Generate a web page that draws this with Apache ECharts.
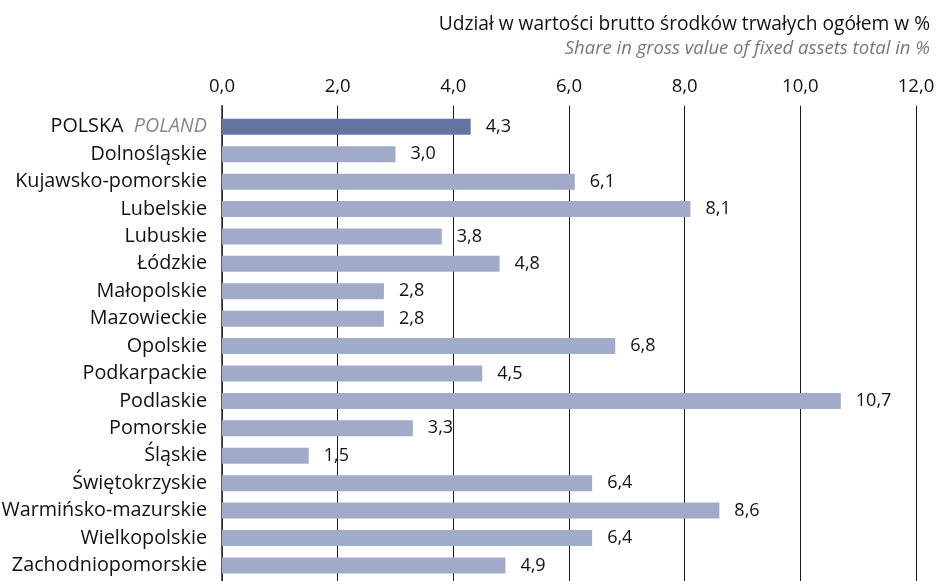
<!DOCTYPE html>
<html>
<head>
<meta charset="utf-8">
<script src="https://cdn.jsdelivr.net/npm/echarts@6/dist/echarts.min.js"></script>
<style>html,body{margin:0;padding:0;background:#fff}#c{width:936px;height:581px}</style>
</head>
<body>
<div id="c"></div>
<script>
const categories = ["POLSKA", "Dolnośląskie", "Kujawsko-pomorskie", "Lubelskie", "Lubuskie", "Łódzkie", "Małopolskie", "Mazowieckie", "Opolskie", "Podkarpackie", "Podlaskie", "Pomorskie", "Śląskie", "Świętokrzyskie", "Warmińsko-mazurskie", "Wielkopolskie", "Zachodniopomorskie"];
const values = [4.3, 3.0, 6.1, 8.1, 3.8, 4.8, 2.8, 2.8, 6.8, 4.5, 10.7, 3.3, 1.5, 6.4, 8.6, 6.4, 4.9];
const tickLabels = ["0,0", "2,0", "4,0", "6,0", "8,0", "10,0", "12,0"];
const titlePL = "Udział w wartości brutto środków trwałych ogółem w %";
const titleEN = "Share in gross value of fixed assets total in %";
const polandEN = "POLAND";

const FONT = "Open Sans";
const chart = echarts.init(document.getElementById('c'), null, {renderer: 'canvas'});
const GL = 222, GW = 694;
chart.setOption({
  animation: false,
  graphic: [
    {type: 'text', right: 6, top: 15, style: {text: titlePL, fontFamily: FONT, fontSize: 19.2, fill: '#111'}},
    {type: 'text', right: 6, top: 39, style: {text: titleEN, fontFamily: FONT, fontSize: 18.5, fontStyle: 'italic', fill: '#777'}}
  ],
  grid: [
    {left: GL, width: GW, top: 113.1, height: 466, containLabel: false, outerBoundsMode: 'none'},
    {left: GL, width: GW, top: 105.7, height: 490, containLabel: false, outerBoundsMode: 'none'}
  ],
  xAxis: [
    {gridIndex: 0, type: 'value', min: 0, max: 12, interval: 2, show: false},
    {gridIndex: 1, type: 'value', min: 0, max: 12, interval: 2, position: 'top',
     axisLine: {show: false}, axisTick: {show: false},
     axisLabel: {margin: 9, fontFamily: FONT, fontSize: 18.5, color: '#111',
       formatter: (v) => tickLabels[Math.round(v / 2)]},
     splitLine: {show: true, lineStyle: {color: '#1a1a1a', width: 1}}}
  ],
  yAxis: [
    {gridIndex: 0, type: 'category', data: categories, inverse: true,
     axisLine: {show: false}, axisTick: {show: false},
     axisLabel: {margin: 15, fontFamily: FONT, fontSize: 19.8, color: '#111',
       formatter: (v) => v === 'POLSKA' ? '{a|POLSKA}  {b|' + polandEN + '}' : v,
       rich: {a: {fontFamily: FONT, fontSize: 19.8, color: '#111'},
              b: {fontFamily: FONT, fontSize: 19.8, color: '#888', fontStyle: 'italic'}}}},
    {gridIndex: 1, type: 'value', min: 0, max: 1, show: true,
     axisLine: {show: true, onZero: false, lineStyle: {color: '#333', width: 1.6}},
     axisTick: {show: false}, axisLabel: {show: false}, splitLine: {show: false}}
  ],
  series: [{
    type: 'bar', xAxisIndex: 0, yAxisIndex: 0, z: 3,
    barWidth: 16,
    data: values.map((v, i) => ({value: v, itemStyle: {color: i === 0 ? '#6674a3' : '#a2aac9'}})),
    label: {show: true, position: 'right', distance: 15, fontFamily: FONT, fontSize: 18, color: '#111',
      formatter: (p) => p.value.toFixed(1).replace('.', ',')}
  }]
});
</script>
</body>
</html>
